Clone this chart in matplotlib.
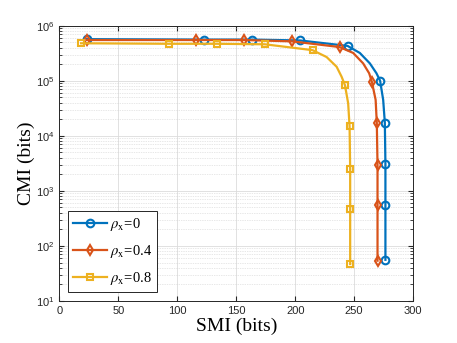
import matplotlib
matplotlib.use("Agg")
import matplotlib.pyplot as plt
from matplotlib.ticker import LogLocator, NullLocator, MultipleLocator, NullFormatter

plt.rcParams.update({
    "font.family": "Liberation Sans",
    "mathtext.fontset": "stix",
    "axes.edgecolor": "#262626",
    "xtick.color": "#262626",
    "ytick.color": "#262626",
})

# values; extra knee points carry no marker
smi_r0 = [23.2, 122.6, 163.6, 204.2, 244.4, 254.8, 263.3, 268.9, 272.0, 274.6, 276.0, 276.5, 276.5, 276.5]
cmi_r0 = [5.7e5, 5.6e5, 5.6e5, 5.4e5, 4.3e5, 3.2e5, 2.07e5, 1.37e5, 1.0e5, 4.5e4, 1.74e4, 3.1e3, 560, 56]
mk_r0 = [0, 1, 2, 3, 4, 8, 10, 11, 12, 13]

smi_r4 = [23.2, 115.6, 156.8, 197.5, 237.6, 249.2, 257.6, 262.7, 265.0, 268.2, 269.2, 269.8, 269.8, 269.8]
cmi_r4 = [5.5e5, 5.5e5, 5.5e5, 5.2e5, 4.1e5, 3.2e5, 2.07e5, 1.37e5, 9.6e4, 4.5e4, 1.7e4, 2.9e3, 550, 54]
mk_r4 = [0, 1, 2, 3, 4, 8, 10, 11, 12, 13]

smi_r8 = [18.4, 93.0, 133.7, 174.3, 214.7, 226.6, 235.1, 239.3, 242.2, 244.9, 246.1, 246.6, 246.6, 246.6]
cmi_r8 = [4.8e5, 4.7e5, 4.7e5, 4.6e5, 3.6e5, 2.7e5, 1.8e5, 1.19e5, 8.3e4, 3.9e4, 1.48e4, 2.5e3, 470, 47]
mk_r8 = [0, 1, 2, 3, 4, 8, 10, 11, 12, 13]

labels = [r"$\rho_{\mathrm{x}}$=0", r"$\rho_{\mathrm{x}}$=0.4", r"$\rho_{\mathrm{x}}$=0.8"]

fig = plt.figure(figsize=(4.57, 3.43), dpi=100)
ax = fig.add_axes([0.130, 0.1224, 0.774, 0.8026])

ax.plot(smi_r0, cmi_r0, color="#0072BD", lw=1.6, marker="o", ms=5.5, mfc="none",
        mew=1.5, markevery=mk_r0, label=labels[0])
ax.plot(smi_r4, cmi_r4, color="#D95319", lw=1.6, marker="d", ms=5.5, mfc="none",
        mew=1.5, markevery=mk_r4, label=labels[1])
ax.plot(smi_r8, cmi_r8, color="#EDB120", lw=1.6, marker="s", ms=5, mfc="none",
        mew=1.5, markevery=mk_r8, label=labels[2])

ax.set_yscale("log")
ax.set_xlim(0, 300)
ax.set_ylim(1e1, 1e6)
ax.xaxis.set_major_locator(MultipleLocator(50))
ax.xaxis.set_minor_locator(NullLocator())
ax.yaxis.set_major_locator(LogLocator(base=10, numticks=10))
ax.yaxis.set_minor_locator(LogLocator(base=10, subs=range(2, 10), numticks=20))
ax.yaxis.set_minor_formatter(NullFormatter())

ax.grid(True, which="major", color="#dcdcdc", lw=0.6)
ax.grid(True, which="minor", axis="y", color="#d0d0d0", lw=0.5, ls=(0, (1, 1.5)))
ax.set_axisbelow(True)
ax.tick_params(which="both", direction="in", top=True, right=True, labelsize=8)
ax.tick_params(which="major", length=3.5)
ax.tick_params(which="minor", length=2)
for s in ax.spines.values():
    s.set_linewidth(0.7)

ax.set_xlabel("SMI (bits)", family="Liberation Serif", fontsize=14, labelpad=1)
ax.set_ylabel("CMI (bits)", family="Liberation Serif", fontsize=14, labelpad=1)

leg = ax.legend(loc="lower left", bbox_to_anchor=(0.0, 0.0), fancybox=False,
                edgecolor="#262626", framealpha=1, handlelength=2.3,
                borderpad=0.35, labelspacing=0.7, handletextpad=0.2,
                borderaxespad=0.6,
                prop={"family": "Liberation Serif", "size": 10.5})
leg.get_frame().set_linewidth(0.7)

fig.savefig("out.png", dpi=100)
